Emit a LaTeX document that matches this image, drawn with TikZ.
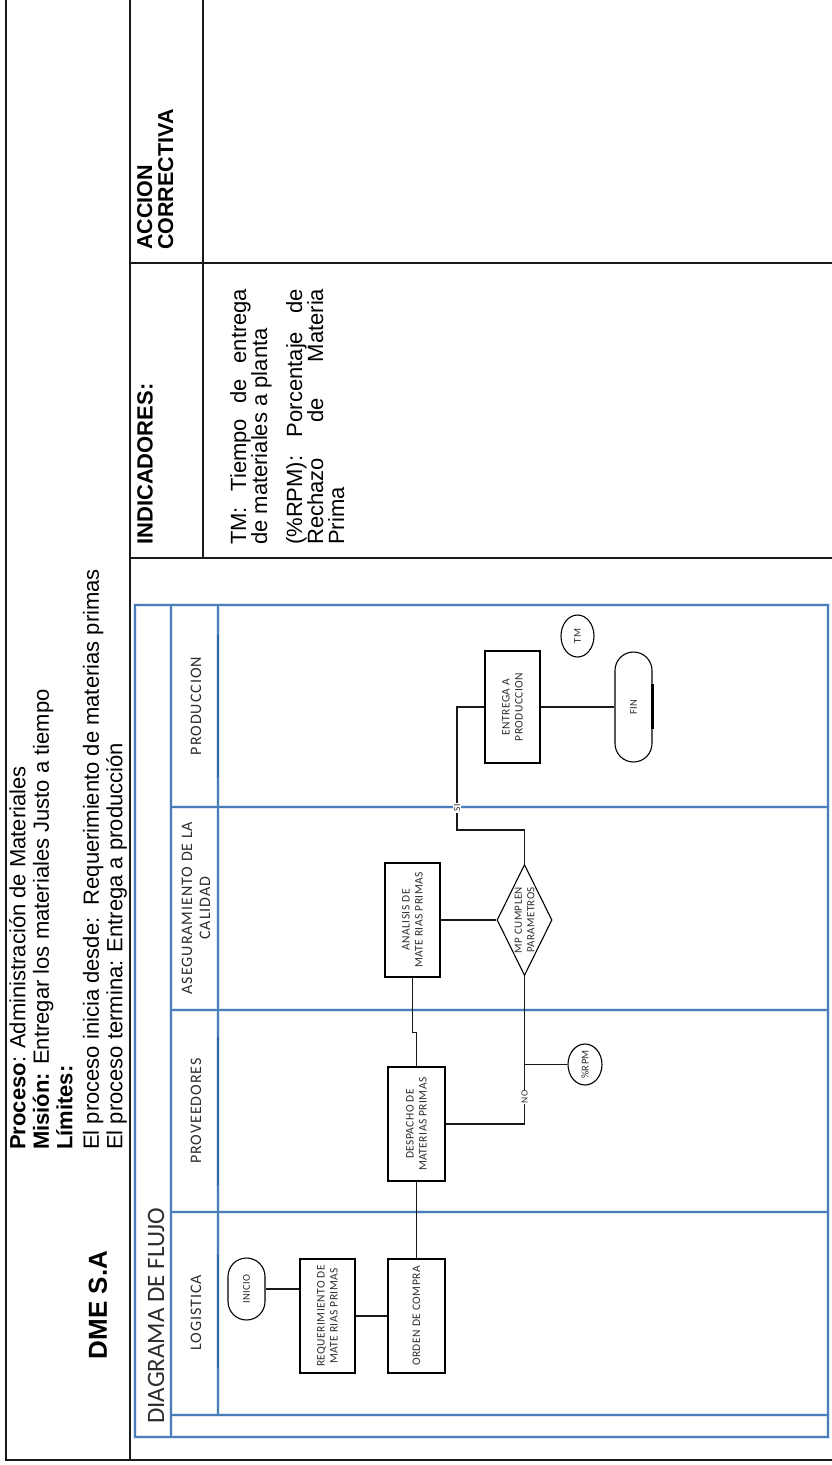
\documentclass[tikz,border=0pt]{standalone}
\usepackage{fontspec}
\setmainfont{Liberation Sans}
\newfontfamily\flowfont{Carlito}[LetterSpace=4]
\newfontfamily\lanefont{Carlito}[LetterSpace=6]
\newfontfamily\titlefont{Carlito}
\usetikzlibrary{shapes.geometric,shapes.misc,calc}
\definecolor{laneblue}{RGB}{74,126,187}
\definecolor{laneedge}{RGB}{46,100,160}
\definecolor{laneglow}{RGB}{222,232,244}
\definecolor{ink}{RGB}{45,45,45}

\begin{document}
\begin{tikzpicture}[x=1pt,y=-1pt,
  frame/.style={draw=black!90, line width=1.2pt},
  lane/.style={draw=laneblue, line width=1.2pt},
  glow/.style={draw=laneglow, line width=4.5pt},
  laneedge/.style={draw=laneedge, line width=2.6pt},
  lanelabel/.style={rotate=90, align=center, inner sep=0pt, text=ink,
    font=\lanefont\fontsize{16}{18}\selectfont},
  proc/.style={draw=black, line width=1.1pt, rectangle, rotate=90, inner sep=1pt,
    align=center, text=ink, font=\flowfont\fontsize{11.5}{13}\selectfont},
  term/.style={draw=black, line width=1.1pt, rounded rectangle, rotate=90, inner sep=1pt,
    align=center, text=ink, font=\flowfont\fontsize{10.5}{12}\selectfont},
  decision/.style={draw=black, line width=1.1pt, diamond, inner sep=0pt,
    minimum width=55pt, minimum height=111pt},
  indic/.style={draw=black, line width=1.1pt, ellipse, rotate=90, inner sep=0pt,
    text=ink, font=\flowfont\fontsize{10.5}{12}\selectfont},
  tag/.style={rotate=90, fill=white, inner sep=1pt, text=ink,
    font=\flowfont\fontsize{9.5}{11}\selectfont},
  conn/.style={draw=black!90, line width=1.1pt}
]
\useasboundingbox (0,0) rectangle (832,1465);
\fill[white] (0,0) rectangle (832,1465);

% ---------- form frame ----------
\draw[frame] (6,0) -- (6,1460) -- (832,1460);
\draw[frame] (130,0) -- (130,1460);
\draw[frame] (203,0) -- (203,558);
\draw[frame] (130,263) -- (832,263);
\draw[frame] (130,558) -- (832,558);

% ---------- heading cell ----------
\node[rotate=90, font=\bfseries\fontsize{26}{28}\selectfont] (empresa) at (98,1305) {DME S.A};
\node[rotate=90, anchor=north west, align=left, inner sep=0pt,
      font=\fontsize{22}{23.5}\selectfont] (proceso) at (9,1150)
  {\textbf{Proceso}: Administración de Materiales\\
   \textbf{Misión:} Entregar los materiales Justo a tiempo\\
   \textbf{Límites:}\\[3pt]
   El proceso inicia desde:\ \ Requerimiento de materias primas\\
   El proceso termina: Entrega a producción};

% ---------- indicators and corrective action ----------
\node[rotate=90, anchor=north west, inner sep=0pt,
      font=\bfseries\fontsize{22}{23}\selectfont] (indtitle) at (137,545) {INDICADORES:};
\node[rotate=90, anchor=north west, align=left, inner sep=0pt,
      font=\bfseries\fontsize{21.5}{21}\selectfont] (acctitle) at (137,250) {ACCION\\CORRECTIVA};
\node[rotate=90, anchor=north west, align=left, inner sep=0pt,
      font=\fontsize{22}{21}\selectfont] (indtext) at (230,545)
  {\makebox[256pt][s]{TM:\ Tiempo de entrega}\\
   de materiales a planta\\[14pt]
   \makebox[256pt][s]{(\%RPM):\ Porcentaje de}\\
   \makebox[256pt][s]{Rechazo de Materia}\\
   Prima};

% ---------- swimlane frame ----------
\begin{scope}
  \draw[glow] (135,605) rectangle (828,1437);
  \draw[glow] (171,605) -- (171,1437) (218,605) -- (218,1415)
              (171,807) -- (828,807) (171,1010) -- (828,1010)
              (171,1212) -- (828,1212) (171,1415) -- (828,1415);
  \draw[lane] (135,605) rectangle (828,1437);
  \draw[lane] (171,605) -- (171,1437);
  \draw[lane] (218,605) -- (218,1415);
  \draw[lane] (171,807) -- (828,807);
  \draw[lane] (171,1010) -- (828,1010);
  \draw[lane] (171,1212) -- (828,1212);
  \draw[lane] (171,1415) -- (828,1415);
  \draw[laneedge] (218,635) -- (218,777);
  \draw[laneedge] (218,1037) -- (218,1185);
  \draw[laneedge] (218,1255) -- (218,1368);
\end{scope}

\node[rotate=90, anchor=west, inner sep=0pt, text=ink,
      font=\titlefont\fontsize{25}{27}\selectfont] (titulo) at (156,1424) {DIAGRAMA DE FLUJO};

\node[lanelabel] (l1) at (196,1313) {LOGISTICA};
\node[lanelabel] (l2) at (196,1111) {PROVEEDORES};
\node[lanelabel] (l3) at (196,908) {ASEGURAMIENTO DE LA\\CALIDAD};
\node[lanelabel] (l4) at (196,706) {PRODUCCION};

% ---------- flow ----------
\node[term, minimum width=64pt, minimum height=37pt] (inicio) at (246.5,1289) {INICIO};
\node[proc, minimum width=114pt, minimum height=55pt] (req) at (327.5,1316)
  {REQUERIMIENTO DE\\MATE RIAS PRIMAS};
\node[proc, minimum width=114pt, minimum height=57pt] (orden) at (416.5,1316)
  {ORDEN DE COMPRA};
\node[proc, minimum width=114pt, minimum height=57pt] (desp) at (416.5,1124)
  {DESPACHO DE\\MATERIAS PRIMAS};
\node[proc, minimum width=114pt, minimum height=55pt] (anal) at (412.5,920)
  {ANALISIS DE\\MATE RIAS PRIMAS};
\node[decision] (dec) at (524.5,920) {};
\node[rotate=90, align=center, inner sep=0pt, text=ink,
      font=\flowfont\fontsize{11}{12.5}\selectfont] (dectext) at (dec.center)
  {MP CUMPLEN\\PARAMETROS};
\node[proc, minimum width=112pt, minimum height=55pt] (entrega) at (512.5,707)
  {ENTREGA A\\PRODUCCION};
\node[term, minimum width=112pt, minimum height=37pt] (fin) at (633.5,707) {FIN};
\node[indic, minimum width=42pt, minimum height=33pt] (tm) at (577.5,636) {TM};
\node[indic, minimum width=41pt, minimum height=34pt] (rpm) at (585,1064.5) {\%RPM};

\draw[line width=2.2pt] ($(fin.south)+(0,-23)$) -- ($(fin.south)+(0,22)$);

\coordinate (sijog) at (457,830);
\draw[conn] (inicio.south) -- (inicio.south -| req.north);
\draw[conn] (req.south) -- (orden.north);
\draw[conn] (orden.east) -- (desp.west);
\draw[conn] (desp.east) -- ++(0,-34) -| (anal.west);
\draw[conn] (anal.south) -- (dec.west);
\draw[conn] (dec.north) |- (sijog) |- (entrega.north);
\draw[conn] (entrega.south) -- (fin.north);
\draw[conn] (dec.south) |- (desp.south);
\draw[conn] (dec.south |- rpm.north) -- (rpm.north);

\node[tag] (si) at (457,808) {SI};
\node[tag] (no) at (524.5,1097) {NO};
\end{tikzpicture}
\end{document}
